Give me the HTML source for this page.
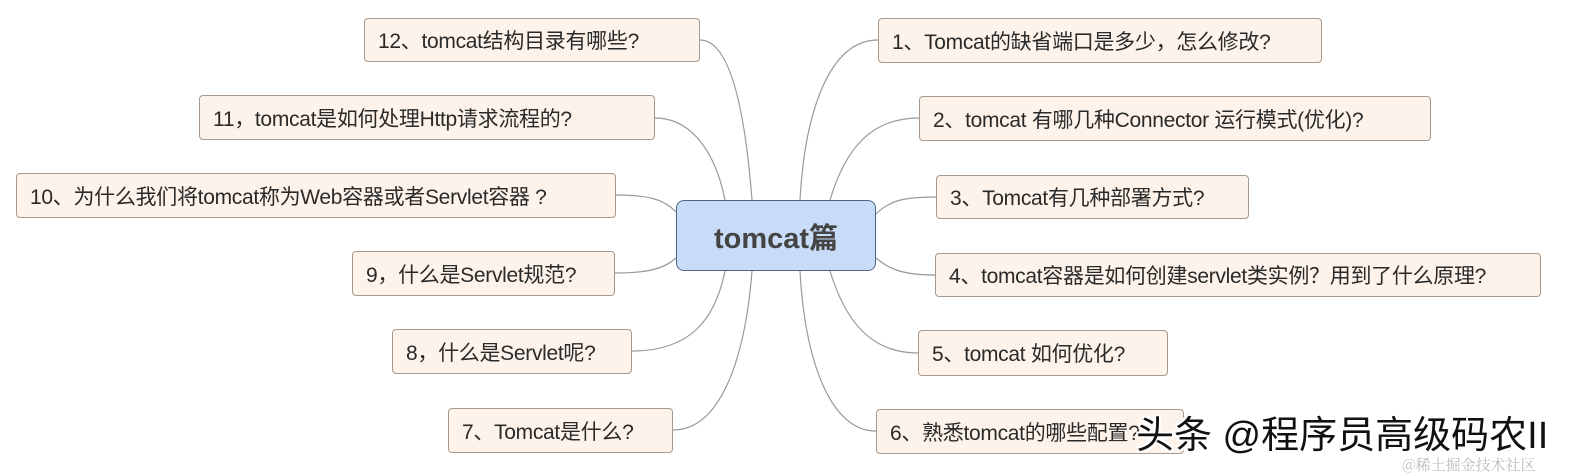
<!DOCTYPE html>
<html><head><meta charset="utf-8"><style>
body{margin:0;width:1581px;height:475px;background:#fff;position:relative;overflow:hidden;font-family:"Liberation Sans","Noto Sans CJK SC",sans-serif}
.b{position:absolute;box-sizing:border-box;background:#fdf3ea;border:1px solid #a8998c;border-radius:4px;font-size:21px;color:#2a2a2a;white-space:nowrap;padding-left:13px;display:flex;align-items:center;letter-spacing:-0.3px}
.c{position:absolute;left:676px;top:200px;width:200px;height:71px;box-sizing:border-box;background:#c9dcf7;border:1px solid #4d6688;border-radius:8px;display:flex;align-items:center;justify-content:center;font-size:29px;font-weight:bold;color:#444}
svg{position:absolute;left:0;top:0}
.wm{position:absolute;left:1136px;top:404px;font-size:38px;color:#111;white-space:nowrap;text-shadow:2px 2px 0 #fff,-2px -2px 0 #fff,2px -2px 0 #fff,-2px 2px 0 #fff}
.wm2{position:absolute;left:1402px;top:454px;font-size:15px;color:#bbb;white-space:nowrap;font-family:"Noto Serif CJK SC",serif}
</style></head><body>
<svg width="1581" height="475" fill="none" stroke="#999" stroke-width="1.2">
<path d="M800 200 C805 110 830 40 878 40"/>
<path d="M830 200 C845 150 870 118 919 118"/>
<path d="M876 214 C890 200 905 197 936 197"/>
<path d="M876 258 C890 270 905 275 935 275"/>
<path d="M830 271 C845 320 870 353 918 353"/>
<path d="M800 271 C805 360 830 431 876 431"/>
<path d="M752 200 C745 110 730 40 700 40"/>
<path d="M725 200 C715 150 690 118 655 118"/>
<path d="M676 212 C665 200 650 195 616 195"/>
<path d="M676 258 C665 268 650 273 615 273"/>
<path d="M725 271 C715 320 690 351 632 351"/>
<path d="M752 271 C745 360 720 430 673 430"/>
</svg>
<div class="c">tomcat篇</div>
<div class="b" style="left:878px;top:18px;width:444px;height:45px">1、Tomcat的缺省端口是多少，怎么修改?</div>
<div class="b" style="left:919px;top:96px;width:512px;height:45px">2、tomcat 有哪几种Connector 运行模式(优化)?</div>
<div class="b" style="left:936px;top:175px;width:313px;height:44px">3、Tomcat有几种部署方式?</div>
<div class="b" style="left:935px;top:253px;width:606px;height:44px">4、tomcat容器是如何创建servlet类实例？用到了什么原理?</div>
<div class="b" style="left:918px;top:330px;width:250px;height:46px">5、tomcat 如何优化?</div>
<div class="b" style="left:876px;top:409px;width:308px;height:45px">6、熟悉tomcat的哪些配置?</div>
<div class="b" style="left:364px;top:18px;width:336px;height:44px">12、tomcat结构目录有哪些?</div>
<div class="b" style="left:199px;top:95px;width:456px;height:45px">11，tomcat是如何处理Http请求流程的?</div>
<div class="b" style="left:16px;top:173px;width:600px;height:45px">10、为什么我们将tomcat称为Web容器或者Servlet容器 ?</div>
<div class="b" style="left:352px;top:251px;width:263px;height:45px">9，什么是Servlet规范?</div>
<div class="b" style="left:392px;top:329px;width:240px;height:45px">8，什么是Servlet呢?</div>
<div class="b" style="left:448px;top:408px;width:225px;height:45px">7、Tomcat是什么?</div>
<div class="wm">头条 @程序员高级码农II</div>
<div class="wm2">@稀土掘金技术社区</div>
</body></html>
